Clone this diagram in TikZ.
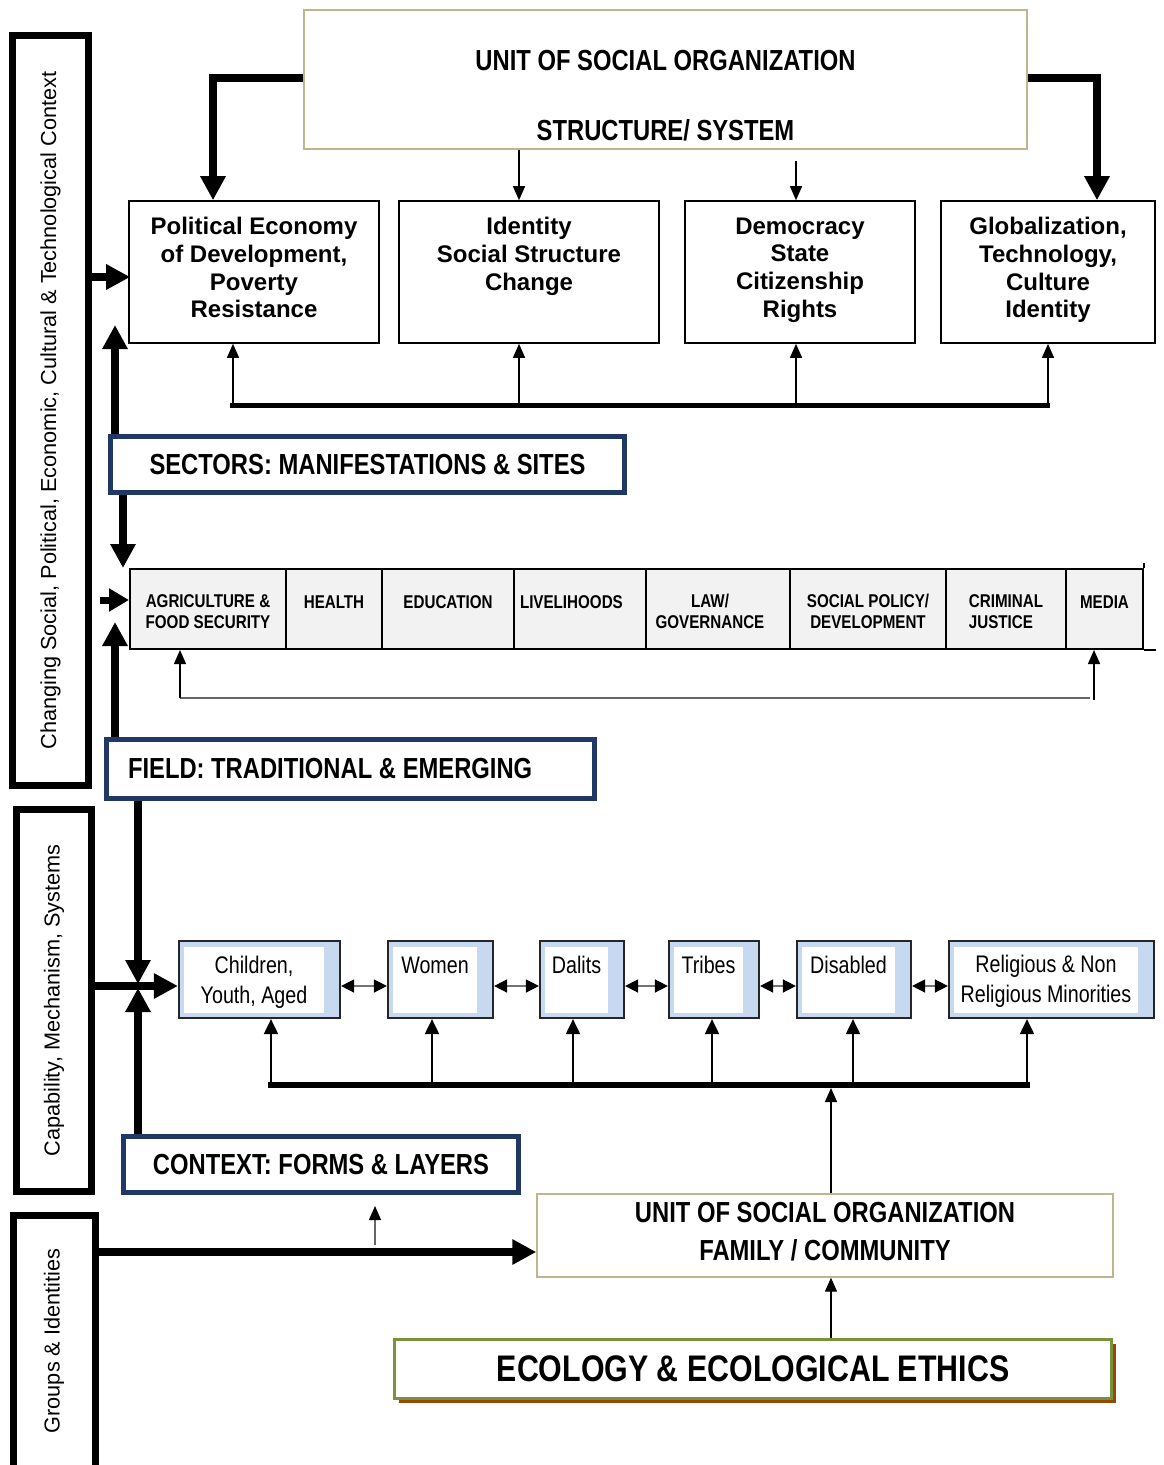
\documentclass[tikz,border=0pt]{standalone}
\usepackage{fontspec}
\setmainfont{Liberation Sans}
\newfontfamily\narrow[FakeStretch=0.82]{Liberation Sans}
\usetikzlibrary{arrows.meta,calc,shadows}

\definecolor{navy}{HTML}{1F3864}
\definecolor{khaki}{HTML}{BDB58C}
\definecolor{paleblue}{HTML}{C6D9F1}
\definecolor{cellgray}{HTML}{F2F2F2}
\definecolor{leaf}{HTML}{77933C}
\definecolor{rust}{HTML}{984806}

\tikzset{
  sidebox/.style={line width=7pt, inner sep=0pt, font=\fontsize{21.7}{26}\selectfont},
  topic/.style={draw, line width=1.6pt, align=center, inner sep=0pt, minimum height=142pt,
    font=\bfseries\fontsize{24}{27.7}\selectfont,
    execute at end node={\rule[-9pt]{0pt}{9pt}}},
  unitbox/.style={draw=khaki, line width=1.4pt, align=center, inner sep=0pt,
    font=\narrow\bfseries\fontsize{29}{35}\selectfont},
  navybox/.style={draw=navy, line width=5pt, inner sep=0pt, align=center,
    font=\narrow\bfseries\fontsize{29}{35}\selectfont},
  cell/.style={draw, line width=2pt, fill=cellgray, align=center, inner sep=0pt,
    minimum height=80pt, font=\narrow\bfseries\fontsize{18.5}{21}\selectfont},
  grpout/.style={draw=black!85, line width=2.2pt, fill=paleblue, minimum height=77pt, inner sep=0pt},
  grpin/.style={fill=white, minimum height=66pt, inner sep=0pt, align=center,
    font=\narrow\fontsize{24}{29.5}\selectfont},
  bigarrow/.style={line width=8pt, -{Triangle[length=24pt,width=24pt]}},
  midarrow/.style={line width=7pt, -{Triangle[length=20pt,width=22pt]}},
  thinarrow/.style={line width=1.4pt, -{Triangle[length=14pt,width=12pt]}},
  grparrow/.style={line width=2pt, -{Triangle[length=15pt,width=14pt]}},
  greyarrow/.style={draw=black!60, line width=1.3pt, -{Triangle[length=14pt,width=12pt,color=black]}},
  linkarrow/.style={draw=black!55, line width=1.5pt,
    {Triangle[length=13pt,width=13pt,color=black]}-{Triangle[length=13pt,width=13pt,color=black]}},
}

% strut that sets the first line of a sector cell
\newcommand\cellstrut{\rule{0pt}{19pt}}

% a population group: blue frame with a white text panel inside
\newcommand\grpbox[4]{%
  \node[grpout, minimum width=#3] (#1) at (#2,979.5) {};
  \node[grpin, minimum width=#3-21] (#1-in) at (#2-5.5,979.5) {#4};}

\begin{document}
\begin{tikzpicture}[x=1pt,y=-1pt]
\useasboundingbox (0,0) rectangle (1163,1465);
\clip (0,0) rectangle (1163,1465);

% ---------- side frames ----------
\node[sidebox, draw, minimum width=76pt, minimum height=750pt] (ctxA) at (50.5,410.5)
  {\rotatebox{90}{Changing Social, Political, Economic, Cultural \& Technological Context}};
\node[sidebox, draw, minimum width=75pt, minimum height=382pt] (ctxB) at (54,1000.5)
  {\rotatebox{90}{Capability, Mechanism, Systems}};
\node[sidebox, minimum width=75pt, minimum height=245pt] (ctxC) at (54,1341)
  {\rotatebox{90}{Groups \& Identities}};
\draw[line width=7pt] ([yshift=-14pt]ctxC.south west) -- (ctxC.north west)
  -- (ctxC.north east) -- ([yshift=-14pt]ctxC.south east);

% ---------- structure / system ----------
\node[unitbox, minimum width=723pt, minimum height=139pt] (unitTop) at (665.5,79.5)
  {\rule{0pt}{52pt}UNIT OF SOCIAL ORGANIZATION\\[35pt]STRUCTURE/ SYSTEM};

\node[topic, minimum width=250pt] (pe) at (254,272)
  {Political Economy\\of Development,\\Poverty\\Resistance};
\node[topic, minimum width=260pt] (ident) at (529,272)
  {Identity\\Social Structure\\Change\\\mbox{}};
\node[topic, minimum width=230pt] (dem) at (800,272)
  {Democracy\\State\\Citizenship\\Rights};
\node[topic, minimum width=214pt] (glob) at (1048,272)
  {Globalization,\\Technology,\\Culture\\Identity};

\draw[bigarrow] (unitTop.west |- 0,78) -| ([xshift=-41pt]pe.north);
\draw[bigarrow] (unitTop.east |- 0,78) -| ([xshift=49pt]glob.north);
\draw[thinarrow] (unitTop.south -| 519,0) -- (ident.north -| 519,0);
\draw[thinarrow] ([yshift=-11pt]unitTop.south -| 796,0) -- (dem.north -| 796,0);

\coordinate (busTopL) at (230,405);
\coordinate (busTopR) at (1050,405);
\draw[line width=5pt] (busTopL) -- (busTopR);
\foreach \n/\x in {pe/233, ident/519, dem/796, glob/1048}
  \draw[thinarrow] (busTopL -| \x,0) -- (\n.south -| \x,0);

\draw[bigarrow] (ctxA.east |- 0,277) -- ([xshift=2pt]pe.west |- 0,277);

% ---------- sectors ----------
\node[navybox, minimum width=514pt, minimum height=56pt] (sect) at (367.5,464.5)
  {SECTORS: MANIFESTATIONS \& SITES};
\coordinate (peLow) at (115,325);
\draw[bigarrow] (sect.north -| peLow) -- (peLow);
\coordinate (tabTop) at (123,568);
\draw[bigarrow] (sect.south -| tabTop) -- (tabTop);

\node[cell, minimum width=156pt] (agri) at (208,609) {\cellstrut AGRICULTURE \&\\FOOD SECURITY};
\node[cell, minimum width=96pt] (health) at (334,609) {\cellstrut HEALTH\\\mbox{}};
\node[cell, minimum width=132pt] (edu) at (448,609) {\cellstrut EDUCATION\\\mbox{}};
\node[cell, minimum width=132pt, text width=120pt, align=left] (live) at (580,609) {\cellstrut LIVELIHOODS\\\mbox{}};
\node[cell, minimum width=144pt] (law) at (718,609) {\cellstrut LAW/\hspace*{16pt}\\GOVERNANCE\hspace*{16pt}};
\node[cell, minimum width=156pt] (policy) at (868,609) {\cellstrut SOCIAL POLICY/\\DEVELOPMENT};
\node[cell, minimum width=120pt, align=left] (crim) at (1006,609) {\cellstrut CRIMINAL\\JUSTICE};
\node[cell, minimum width=77pt] (media) at (1104.5,609) {\cellstrut MEDIA\\\mbox{}};
\draw[line width=2pt] (media.south east) -- ++(12,0);
\draw[line width=2pt] (media.north east) -- ++(0,-5);

\draw[midarrow] ($(ctxA.east |- 0,600)+(8,0)$) -- (agri.west |- 0,600);

\coordinate (busSecL) at (180,698);
\coordinate (busSecR) at (1090,698);
\coordinate (mediaFoot) at (1094,700);
\draw[black!60, line width=1.3pt] (busSecL) -- (busSecR);
\draw[thinarrow] (busSecL) -- (agri.south -| busSecL);
\draw[thinarrow] (mediaFoot) -- (media.south -| mediaFoot);

% ---------- field ----------
\node[navybox, minimum width=488pt, minimum height=59pt] (field) at (350.5,769)
  {\makebox[445pt][l]{FIELD: TRADITIONAL \& EMERGING}};
\coordinate (agriLow) at (115,622);
\draw[bigarrow] (field.north -| agriLow) -- (agriLow);

% ---------- groups ----------
\grpbox{kids}{259.5}{161}{\rule{0pt}{23pt}Children,\\Youth, Aged}
\grpbox{women}{440.5}{105}{Women\\\mbox{}}
\grpbox{dalits}{582}{84}{Dalits\\\mbox{}}
\grpbox{tribes}{714}{90}{Tribes\\\mbox{}}
\grpbox{disabled}{854}{114}{Disabled\\\mbox{}}
\grpbox{minor}{1051.5}{205}{\rule{0pt}{21pt}Religious \& Non\\Religious Minorities}

\foreach \a/\b in {kids/women, women/dalits, dalits/tribes, tribes/disabled, disabled/minor}
  \draw[linkarrow] (\a.east |- 0,986) -- (\b.west |- 0,986);

\coordinate (busGrpL) at (268,1085);
\coordinate (busGrpR) at (1030,1085);
\draw[line width=6pt] (busGrpL) -- (busGrpR);
\foreach \n/\x in {kids/271, women/432, dalits/573, tribes/712, disabled/853, minor/1027}
  \draw[grparrow] (busGrpL -| \x,0) -- (\n.south -| \x,0);

% ---------- context ----------
\node[navybox, minimum width=395pt, minimum height=56pt] (context) at (321,1164.5)
  {CONTEXT: FORMS \& LAYERS};

\coordinate (crossDown) at (138,984);
\coordinate (crossUp) at (138,988);
\draw[bigarrow] (field.south -| crossDown) -- (crossDown);
\draw[bigarrow] (context.north -| crossUp) -- (crossUp);
\draw[bigarrow] (ctxB.east |- 0,986) -- (kids.west |- 0,986);

\coordinate (ctxLow) at (375,1245);
\draw[greyarrow] (ctxLow) -- ([yshift=-11pt]context.south -| ctxLow);

% ---------- family / community ----------
\node[unitbox, minimum width=576pt, minimum height=83pt] (unitFam) at (825,1235.5)
  {UNIT OF SOCIAL ORGANIZATION\\[3pt]FAMILY / COMMUNITY\rule[-8pt]{0pt}{8pt}};
\draw[bigarrow] (ctxC.east |- 0,1252) -- (unitFam.west |- 0,1252);
\draw[thinarrow] (unitFam.north -| 831,0) -- ([yshift=-3pt]busGrpL -| 831,0);

% ---------- ecology ----------
\node[draw=leaf, line width=3pt, fill=white, minimum width=717pt, minimum height=59pt,
  inner sep=0pt, font=\narrow\bfseries\fontsize{37}{44}\selectfont,
  general shadow={fill=rust, shadow xshift=4pt, shadow yshift=-4pt}] (eco) at (753,1369)
  {ECOLOGY \& ECOLOGICAL ETHICS};
\draw[thinarrow] (eco.north -| 831,0) -- (unitFam.south -| 831,0);
\end{tikzpicture}
\end{document}
